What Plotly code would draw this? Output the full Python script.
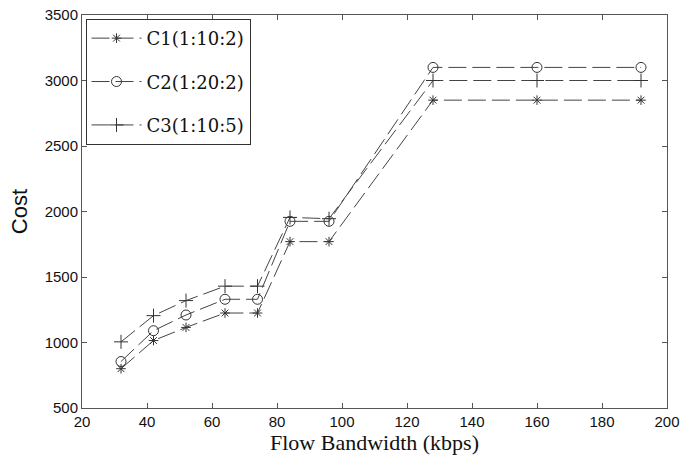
import plotly.graph_objects as go

bandwidth = [32, 42, 52, 64, 74, 84, 96, 128, 160, 192]
c1 = [800, 1015, 1115, 1225, 1225, 1770, 1770, 2850, 2850, 2850]
c2 = [855, 1090, 1210, 1330, 1330, 1925, 1925, 3100, 3100, 3100]
c3 = [1005, 1205, 1320, 1430, 1430, 1955, 1945, 3000, 3000, 3000]
names = ["C1(1:10:2)", "C2(1:20:2)", "C3(1:10:5)"]
symbols = ["asterisk-open", "circle-open", "cross-thin-open"]
sizes = [8, 10, 10]

fig = go.Figure()
for i, (vals, nm, sym, sz) in enumerate(zip([c1, c2, c3], names, symbols, sizes)):
    fig.add_trace(go.Scatter(
        x=bandwidth, y=vals, name=nm, mode="lines+markers",
        legendgroup=f"g{i}",
        line=dict(color="#444444", width=1, dash="18px,6px"),
        marker=dict(symbol=sym, size=sz, color="#333333",
                    line=dict(color="#333333", width=1)),
    ))

axis_common = dict(showline=True, linecolor="#555555", linewidth=1, mirror="ticks",
                   ticks="inside", ticklen=5, tickcolor="#555555", showgrid=False,
                   zeroline=False, automargin=False,
                   tickfont=dict(family="Liberation Sans, Arial", size=15, color="#111111"))

fig.update_layout(
    width=695, height=458,
    margin=dict(l=82, r=28, t=15, b=50),
    paper_bgcolor="white", plot_bgcolor="white",
    xaxis=dict(range=[20, 200], tickvals=list(range(20, 201, 20)),
               title=dict(text="Flow Bandwidth (kbps)", standoff=2,
                          font=dict(family="Liberation Serif, DejaVu Serif", size=22, color="#111111")),
               **axis_common),
    yaxis=dict(range=[500, 3500], tickvals=list(range(500, 3501, 500)),
               title=dict(text="Cost", standoff=10,
                          font=dict(family="Liberation Sans, Arial", size=22, color="#111111")),
               **axis_common),
    legend=dict(x=0.006, y=0.99, xanchor="left", yanchor="top",
                bordercolor="#333333", borderwidth=1, bgcolor="white",
                traceorder="grouped", tracegroupgap=17, itemwidth=50,
                font=dict(family="DejaVu Serif, Liberation Serif", size=18, color="#111111")),
    showlegend=True,
)

fig.write_html("out.html", config={"displayModeBar": False},
               post_script="document.body.style.margin='0';")
